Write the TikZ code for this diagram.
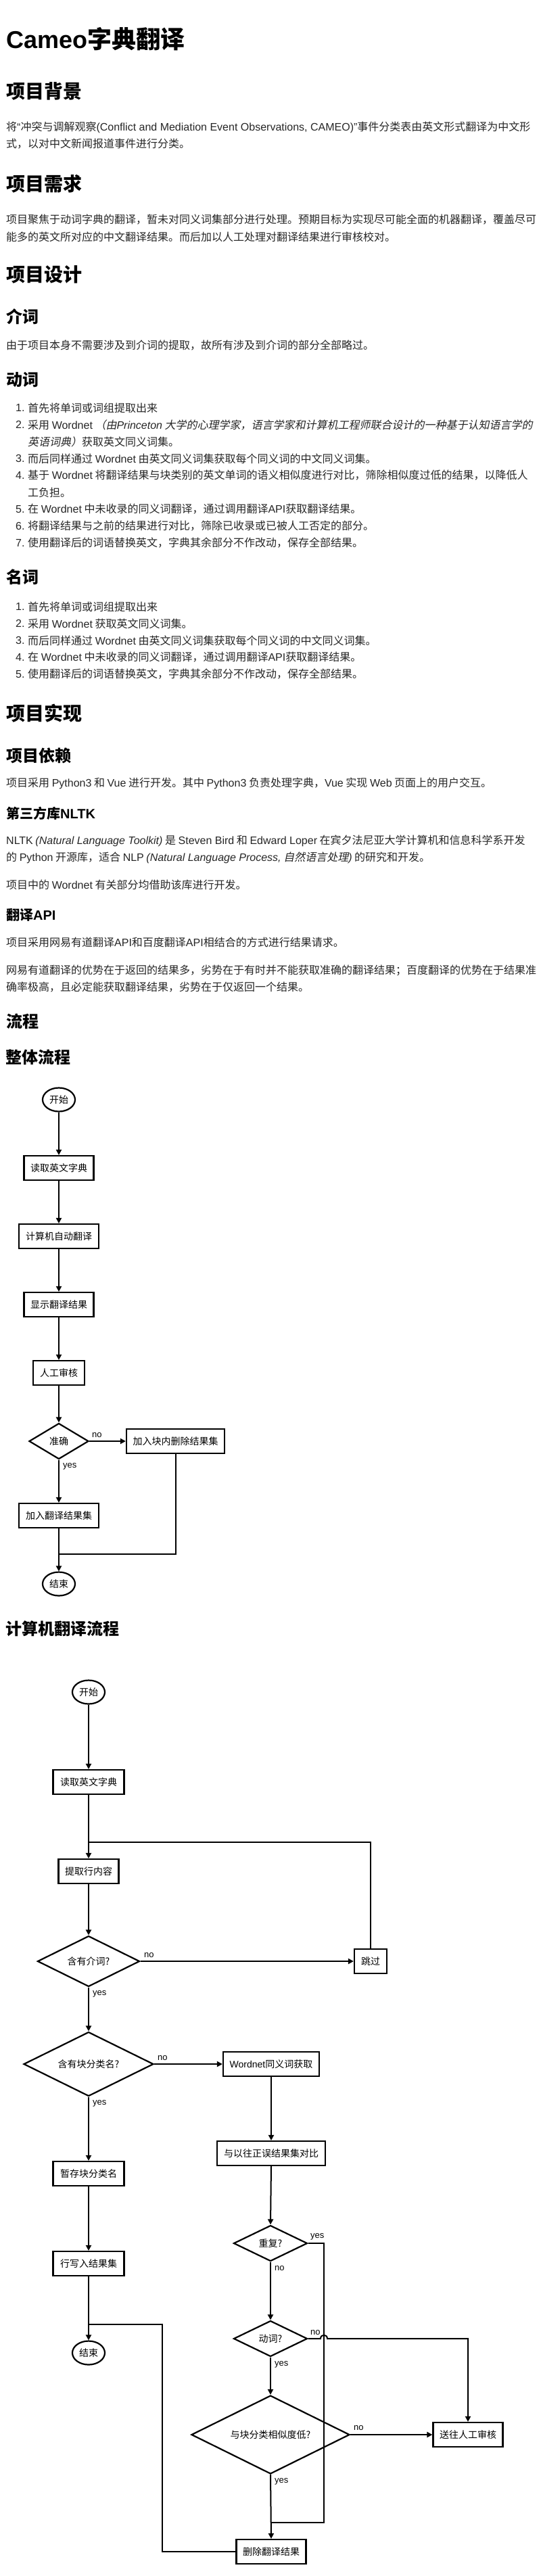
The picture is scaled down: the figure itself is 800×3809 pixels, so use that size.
\documentclass[tikz,border=0pt]{standalone}
\usepackage{fontspec}
\setmainfont{Noto Sans CJK SC}
\newfontfamily\lat{Liberation Sans}
\newfontfamily\cjkit{Noto Sans CJK SC}[FakeSlant=0.2]
\usetikzlibrary{shapes.geometric,arrows.meta}
\newcommand\E[1]{{\lat #1}}
\newcommand\EI[1]{{\lat\itshape #1}}
\newcommand\CI[1]{{\cjkit #1}}
\begin{document}
\begin{tikzpicture}[x=1pt,y=-1pt,
  body/.style={anchor=west,inner sep=0pt,font=\fontsize{16}{20}\selectfont,text=black!85},
  num/.style={anchor=west,inner sep=0pt,font=\fontsize{16}{20}\selectfont\lat,text=black!85},
  hA/.style={anchor=west,inner sep=0pt,font=\fontsize{36}{40}\selectfont\bfseries},
  hB/.style={anchor=west,inner sep=0pt,font=\fontsize{28}{32}\selectfont\bfseries},
  hC/.style={anchor=west,inner sep=0pt,font=\fontsize{24}{28}\selectfont\bfseries},
  hD/.style={anchor=west,inner sep=0pt,font=\fontsize{20}{24}\selectfont\bfseries},
  fbox/.style={draw,line width=2.2pt,minimum height=36pt,inner xsep=0pt,inner ysep=0pt,font=\fontsize{14}{16}\selectfont},
  term/.style={ellipse,draw,line width=2.2pt,minimum width=48pt,minimum height=35pt,inner sep=0pt,font=\fontsize{14}{16}\selectfont},
  dec/.style={diamond,draw,line width=2.2pt,inner sep=0pt,aspect=2,font=\fontsize{14}{16}\selectfont},
  conn/.style={line width=2pt,-{Triangle[length=8pt,width=8pt]}},
  wire/.style={line width=2pt},
  lab/.style={anchor=west,inner sep=0pt,font=\fontsize{13}{15}\selectfont\lat},
]
\fill[white] (0,0) rectangle (800,3809);
\useasboundingbox (0,0) rectangle (800,3809);

% ---------- text part ----------
\node[hA] (t0) at (9,58) {\E{Cameo}字典翻译};
\node[hB] (h1) at (9,135) {项目背景};
\node[body] (p1a) at (9,188) {将\E{“}冲突与调解观察\E{(Conflict and Mediation Event Observations, CAMEO)”}事件分类表由英文形式翻译为中文形};
\node[body] (p1b) at (9,213) {式，以对中文新闻报道事件进行分类。};
\node[hB] (h2) at (9,272) {项目需求};
\node[body] (p2a) at (9,325) {项目聚焦于动词字典的翻译，暂未对同义词集部分进行处理。预期目标为实现尽可能全面的机器翻译，覆盖尽可};
\node[body] (p2b) at (9,350) {能多的英文所对应的中文翻译结果。而后加以人工处理对翻译结果进行审核校对。};
\node[hB] (h3) at (9,406) {项目设计};
\node[hC] (h3a) at (9,468) {介词};
\node[body] (p3) at (9,511) {由于项目本身不需要涉及到介词的提取，故所有涉及到介词的部分全部略过。};
\node[hC] (h3b) at (9,562) {动词};
\node[num] (v1n) at (23,603) {1.};
\node[body] (v1) at (41,603) {首先将单词或词组提取出来};
\node[num] (v2n) at (23,628) {2.};
\node[body] (v2) at (41,628) {采用 \E{Wordnet} \CI{（由}\EI{Princeton} \CI{大学的心理学家，语言学家和计算机工程师联合设计的一种基于认知语言学的}};
\node[body] (v2b) at (41,653) {\CI{英语词典）}获取英文同义词集。};
\node[num] (v3n) at (23,678) {3.};
\node[body] (v3) at (41,678) {而后同样通过 \E{Wordnet} 由英文同义词集获取每个同义词的中文同义词集。};
\node[num] (v4n) at (23,703) {4.};
\node[body] (v4) at (41,703) {基于 \E{Wordnet} 将翻译结果与块类别的英文单词的语义相似度进行对比，筛除相似度过低的结果，以降低人};
\node[body] (v4b) at (41,728) {工负担。};
\node[num] (v5n) at (23,753) {5.};
\node[body] (v5) at (41,753) {在 \E{Wordnet} 中未收录的同义词翻译，通过调用翻译\E{API}获取翻译结果。};
\node[num] (v6n) at (23,778) {6.};
\node[body] (v6) at (41,778) {将翻译结果与之前的结果进行对比，筛除已收录或已被人工否定的部分。};
\node[num] (v7n) at (23,803) {7.};
\node[body] (v7) at (41,803) {使用翻译后的词语替换英文，字典其余部分不作改动，保存全部结果。};
\node[hC] (h3c) at (9,853) {名词};
\node[num] (n1n) at (23,897) {1.};
\node[body] (n1) at (41,897) {首先将单词或词组提取出来};
\node[num] (n2n) at (23,922) {2.};
\node[body] (n2) at (41,922) {采用 \E{Wordnet} 获取英文同义词集。};
\node[num] (n3n) at (23,947) {3.};
\node[body] (n3) at (41,947) {而后同样通过 \E{Wordnet} 由英文同义词集获取每个同义词的中文同义词集。};
\node[num] (n4n) at (23,972) {4.};
\node[body] (n4) at (41,972) {在 \E{Wordnet} 中未收录的同义词翻译，通过调用翻译\E{API}获取翻译结果。};
\node[num] (n5n) at (23,997) {5.};
\node[body] (n5) at (41,997) {使用翻译后的词语替换英文，字典其余部分不作改动，保存全部结果。};
\node[hB] (h4) at (9,1055) {项目实现};
\node[hC] (h4a) at (9,1117) {项目依赖};
\node[body] (p4) at (9,1158) {项目采用 \E{Python3} 和 \E{Vue} 进行开发。其中 \E{Python3} 负责处理字典，\E{Vue} 实现 \E{Web} 页面上的用户交互。};
\node[hD] (h4b) at (9,1203) {第三方库\E{NLTK}};
\node[body] (p5a) at (9,1243) {\E{NLTK} \EI{(Natural Language Toolkit)} 是 \E{Steven Bird} 和 \E{Edward Loper} 在宾夕法尼亚大学计算机和信息科学系开发};
\node[body] (p5b) at (9,1268) {的 \E{Python} 开源库，适合 \E{NLP} \EI{(Natural Language Process,} \CI{自然语言处理}\EI{)} 的研究和开发。};
\node[body] (p6) at (9,1308) {项目中的 \E{Wordnet} 有关部分均借助该库进行开发。};
\node[hD] (h4c) at (9,1353) {翻译\E{API}};
\node[body] (p7) at (9,1393) {项目采用网易有道翻译\E{API}和百度翻译\E{API}相结合的方式进行结果请求。};
\node[body] (p8a) at (9,1435) {网易有道翻译的优势在于返回的结果多，劣势在于有时并不能获取准确的翻译结果；百度翻译的优势在于结果准};
\node[body] (p8b) at (9,1460) {确率极高，且必定能获取翻译结果，劣势在于仅返回一个结果。};
\node[hC] (h5) at (9,1510) {流程};
\node[hC] (h5a) at (8,1563) {整体流程};

% ---------- flowchart 1 ----------
\node[term] (s1) at (87,1626) {开始};
\node[fbox,minimum width=103pt] (r1) at (87,1727) {读取英文字典};
\node[fbox,minimum width=118pt] (c1) at (87,1828) {计算机自动翻译};
\node[fbox,minimum width=103pt] (d1) at (87,1929) {显示翻译结果};
\node[fbox,minimum width=76pt] (m1) at (87,2030) {人工审核};
\node[dec,minimum width=88pt,minimum height=53pt] (q1) at (87,2131) {准确};
\node[fbox,minimum width=145pt] (del1) at (259.5,2131) {加入块内删除结果集};
\node[fbox,minimum width=118pt] (add1) at (87,2241) {加入翻译结果集};
\node[term] (e1) at (87,2342) {结束};
\coordinate (j1) at (87,2298);

\draw[conn] (s1.south) -- (r1.north);
\draw[conn] (r1.south) -- (c1.north);
\draw[conn] (c1.south) -- (d1.north);
\draw[conn] (d1.south) -- (m1.north);
\draw[conn] (m1.south) -- (q1.north);
\draw[conn] (q1.east) -- (del1.west);
\draw[conn] (q1.south) -- (add1.north);
\draw[conn] (add1.south) -- (e1.north);
\draw[wire] (del1.south) |- (j1);
\node[lab] (l1no) at (136,2122) {no};
\node[lab] (l1yes) at (93,2168) {yes};

\node[hC] (h5b) at (8,2408) {计算机翻译流程};

% ---------- flowchart 2 ----------
\node[term] (s2) at (131,2502) {开始};
\node[fbox,minimum width=105pt] (r2) at (131,2635) {读取英文字典};
\coordinate (j2) at (131,2724);
\node[fbox,minimum width=89pt] (x2) at (131,2767) {提取行内容};
\node[dec,minimum width=151pt,minimum height=75pt] (q2) at (131,2900) {含有介词?};
\node[fbox,minimum width=48pt] (skip) at (548,2900) {跳过};
\node[dec,minimum width=192pt,minimum height=95pt] (q3) at (131,3052) {含有块分类名?};
\node[fbox,minimum width=142pt] (wn) at (401,3052) {\E{Wordnet}同义词获取};
\node[fbox,minimum width=160pt] (cmp) at (401,3184) {与以往正误结果集对比};
\node[fbox,minimum width=105pt] (tmp) at (131,3214) {暂存块分类名};
\node[dec,minimum width=109pt,minimum height=53pt] (q4) at (400,3317) {重复?};
\node[fbox,minimum width=105pt] (wr) at (131,3347) {行写入结果集};
\node[dec,minimum width=109pt,minimum height=53pt] (q5) at (400,3458) {动词?};
\node[term] (e2) at (131,3479) {结束};
\coordinate (j3) at (131,3437);
\coordinate (k3) at (240,3437);
\node[dec,minimum width=234pt,minimum height=116pt] (q6) at (400,3600) {与块分类相似度低?};
\node[fbox,minimum width=103pt] (hum) at (692,3600) {送往人工审核};
\coordinate (j4) at (400,3730);
\coordinate (k4) at (479,3730);
\coordinate (hopL) at (474,3458);
\coordinate (hopR) at (484,3458);
\node[fbox,minimum width=103pt] (delr) at (401,3773) {删除翻译结果};

\draw[conn] (s2.south) -- (r2.north);
\draw[conn] (r2.south) -- (x2.north);
\draw[wire] (skip.north) |- (j2);
\draw[conn] (x2.south) -- (q2.north);
\draw[conn] (q2.east) -- (skip.west);
\draw[conn] (q2.south) -- (q3.north);
\draw[conn] (q3.east) -- (wn.west);
\draw[conn] (q3.south) -- (tmp.north);
\draw[conn] (wn.south) -- (cmp.north);
\draw[conn] (cmp.south) -- (q4.north);
\draw[conn] (q4.south) -- (q5.north);
\draw[wire] (q4.east) -| (k4) -- (j4);
\draw[conn] (q5.east) -- (hopL) .. controls (474,3451) and (484,3451) .. (hopR) -| (hum.north);
\draw[conn] (q5.south) -- (q6.north);
\draw[conn] (q6.east) -- (hum.west);
\draw[conn] (q6.south) -- (delr.north);
\draw[conn] (tmp.south) -- (wr.north);
\draw[conn] (wr.south) -- (e2.north);
\draw[wire] (delr.west) -| (k3) -- (j3);

\node[lab] (l2no) at (213,2891) {no};
\node[lab] (l2yes) at (137,2948) {yes};
\node[lab] (l3no) at (233,3043) {no};
\node[lab] (l3yes) at (137,3110) {yes};
\node[lab] (l4yes) at (459,3307) {yes};
\node[lab] (l4no) at (406,3354) {no};
\node[lab] (l5no) at (459,3449) {no};
\node[lab] (l5yes) at (406,3496) {yes};
\node[lab] (l6no) at (523,3590) {no};
\node[lab] (l6yes) at (406,3669) {yes};
\end{tikzpicture}
\end{document}
